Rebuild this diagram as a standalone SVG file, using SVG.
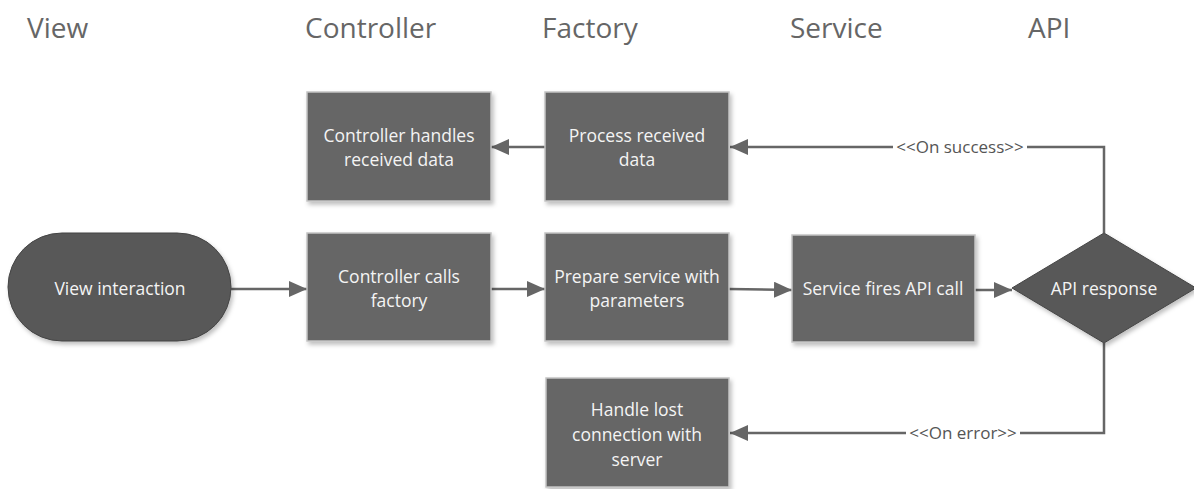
<svg xmlns="http://www.w3.org/2000/svg" width="1194" height="489" viewBox="0 0 1194 489">
  <defs>
    <filter id="shadow" x="-10%" y="-10%" width="125%" height="130%">
      <feDropShadow dx="2" dy="3" stdDeviation="2" flood-color="#000" flood-opacity="0.25"/>
    </filter>
    <marker id="arrow" viewBox="0 0 18 16" refX="18" refY="8" markerWidth="18" markerHeight="16" markerUnits="userSpaceOnUse" orient="auto">
      <path d="M0,0 L18,8 L0,16 Z" fill="#666"/>
    </marker>
  </defs>
  <style>
    .lane { font-family: "Open Sans", "Liberation Sans", sans-serif; font-size: 28px; fill: #666; }
    .box { fill: #666; stroke: #c4c4c4; stroke-width: 1.5; filter: url(#shadow); }
    .term { fill: #585858; stroke: #454545; stroke-width: 1; filter: url(#shadow); }
    .label { font-family: "Open Sans", "Liberation Sans", sans-serif; font-size: 17.5px; fill: #f4f4f4; text-anchor: middle; }
    .conn { fill: none; stroke: #666; stroke-width: 2.5; marker-end: url(#arrow); }
    .clabel { font-family: "Open Sans", "Liberation Sans", sans-serif; font-size: 17px; fill: #555; text-anchor: middle; }
  </style>
  <rect width="1194" height="489" fill="#fff"/>

  <!-- swimlane headings -->
  <g id="lanes">
    <text class="lane" x="27" y="38">View</text>
    <text class="lane" x="305" y="38">Controller</text>
    <text class="lane" x="542" y="38">Factory</text>
    <text class="lane" x="790" y="38">Service</text>
    <text class="lane" x="1028" y="38">API</text>
  </g>

  <!-- connectors -->
  <g id="connectors">
    <path class="conn" d="M231,289 H307"/>
    <path class="conn" d="M491,289 H545"/>
    <path class="conn" d="M729,289 L792,290"/>
    <path class="conn" d="M975,290 H1012"/>
    <path class="conn" d="M545,147 H491"/>
    <path class="conn" d="M1104,233 V147 H730"/>
    <path class="conn" d="M1104,343 V433 H730"/>
    <rect x="893" y="137" width="134" height="20" fill="#fff"/>
    <text class="clabel" x="960" y="153">&lt;&lt;On success&gt;&gt;</text>
    <rect x="906" y="423" width="114" height="20" fill="#fff"/>
    <text class="clabel" x="963" y="439">&lt;&lt;On error&gt;&gt;</text>
  </g>

  <g id="view-interaction">
    <rect class="term" x="8" y="233" width="223" height="108" rx="54" ry="54"/>
    <text class="label" x="120" y="295">View interaction</text>
  </g>

  <g id="controller-calls-factory">
    <rect class="box" x="307" y="233" width="184" height="108"/>
    <text class="label" x="399" y="283">Controller calls</text>
    <text class="label" x="399" y="307">factory</text>
  </g>

  <g id="controller-handles-data">
    <rect class="box" x="307" y="92" width="184" height="109"/>
    <text class="label" x="399" y="142">Controller handles</text>
    <text class="label" x="399" y="166">received data</text>
  </g>

  <g id="process-received-data">
    <rect class="box" x="545" y="92" width="184" height="109"/>
    <text class="label" x="637" y="142">Process received</text>
    <text class="label" x="637" y="166">data</text>
  </g>

  <g id="prepare-service">
    <rect class="box" x="545" y="233" width="184" height="108"/>
    <text class="label" x="637" y="283">Prepare service with</text>
    <text class="label" x="637" y="307">parameters</text>
  </g>

  <g id="service-fires-call">
    <rect class="box" x="792" y="235" width="183" height="107"/>
    <text class="label" x="883" y="295">Service fires API call</text>
  </g>

  <g id="api-response">
    <polygon class="term" points="1104,233 1196,288 1104,343 1012,288"/>
    <text class="label" x="1104" y="295">API response</text>
  </g>

  <g id="handle-lost-connection">
    <rect class="box" x="546" y="378" width="183" height="109"/>
    <text class="label" x="637" y="416">Handle lost</text>
    <text class="label" x="637" y="441">connection with</text>
    <text class="label" x="637" y="466">server</text>
  </g>
</svg>
